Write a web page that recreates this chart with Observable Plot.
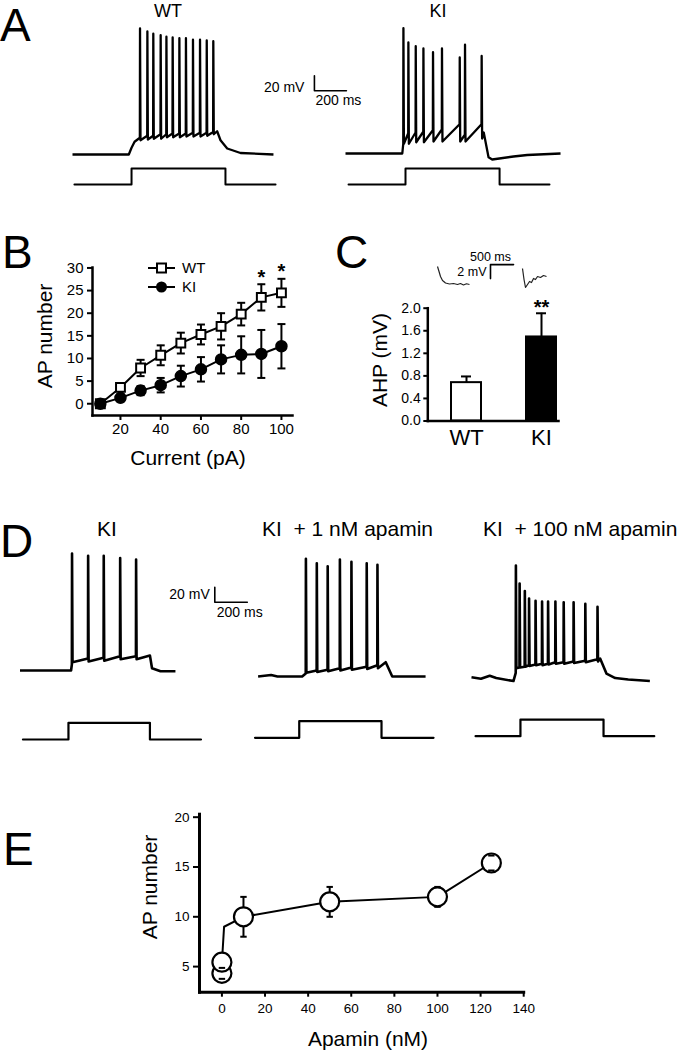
<!DOCTYPE html>
<html>
<head>
<meta charset="utf-8">
<script src="https://cdn.jsdelivr.net/npm/d3@7"></script>
<script src="https://cdn.jsdelivr.net/npm/@observablehq/plot@0.6"></script>
<style>
html, body { margin: 0; padding: 0; background: #fff; }
#fig { position: relative; width: 678px; height: 1050px; overflow: hidden; background: #fff;
       font-family: "Liberation Sans", Arial, Helvetica, sans-serif; color: #000; }
.lbl { position: absolute; line-height: 1; white-space: pre; }
</style>
</head>
<body>
<div id="fig"></div>
<script>
// ======================= DATA =======================
// Panel A – membrane potential (time in ms from trace start, mV); spikes: [t, start, peak, trough]
const aTitles = ["WT", "KI"];
const aWtPre = [[0,-65],[352,-65],[369,-56],[388,-48],[419,-43]];
const aWtSpikes = [[421,-43,103,-46],[467,-40,99,-45],[504,-40,96,-44],[550,-38,94,-44],[586,-38,92,-42],[625,-37,91,-42],
                   [667,-37,90,-42],[708,-37,90,-41],[752,-36,88,-41],[796,-36,88,-41],[838,-36,87,-40],[879,-35,86,-38]];
const aWtPost = [[904,-34],[925,-46],[967,-57],[1050,-63],[1256,-65]];
const aKiPre = [[0,-65],[355,-65]];
const aKiSpikes = [[361,-52,102,-52],[392,-38,83,-52],[438,-37,78,-50],[486,-36,75,-50],[546,-34,70,-49],
                   [602,-33,75,-49],[713,-26,63,-49],[746,-40,80,-49],[850,-26,65,-45]];
const aKiPost = [[864,-37],[894,-70],[917,-73],[1050,-69],[1136,-67],[1344,-65]];
const aWtStep = [12, 369, 956, 1269];   // start, on, off, end (ms)
const aKiStep = [19, 375, 963, 1275];
const aStepAmp = 60;                    // pA
const aScaleBar = [1512, 20, 200, 20];  // t, v, 200 ms, 20 mV

// Panel B – AP number vs injected current
const bCurrent = [10, 20, 30, 40, 50, 60, 70, 80, 90, 100];
const bWtMean = [0, 3.6, 7.9, 10.7, 13.4, 15.3, 17.1, 19.8, 23.5, 24.5];
const bWtSem  = [0.3, 0.8, 1.8, 2.2, 2.3, 2.2, 2.9, 2.5, 2.9, 3.1];
const bKiMean = [0, 1.3, 2.9, 4.1, 6.1, 7.6, 9.8, 10.8, 11.0, 12.7];
const bKiSem  = [0.3, 0.6, 1.0, 1.6, 2.3, 2.7, 3.1, 4.1, 5.3, 4.9];
const bSig    = ["", "", "", "", "", "", "", "", "*", "*"];
const bXTicks = [20, 40, 60, 80, 100];
const bYTicks = [0, 5, 10, 15, 20, 25, 30];
const bSeries = ["WT", "KI"];

// Panel C – AHP amplitude
const cGroups = ["WT", "KI"];
const cMean = [0.68, 1.49];
const cSem  = [0.11, 0.42];
const cSig  = ["", "**"];
const cYTicks = [0, 0.4, 0.8, 1.2, 1.6, 2.0];
// C insets: AHP traces (ms, mV)
const cWtAhp = [[0,2.43],[33,1.72],[65,1.0],[109,0.43],[174,0.07],[260,-0.07],[347,0],[434,-0.14],[499,0],[564,-0.21],[629,-0.04],[694,-0.14]];
const cKiAhp = [[0,2.15],[33,0.57],[65,-0.57],[109,-0.14],[152,0.29],[195,0.14],[239,0.72],[282,0.57],[326,1.0],[391,0.86],[456,1.14],[521,1.0]];
const cScaleBar = [1150, 0.7, 500, 2];   // t, v, 500 ms, 2 mV

// Panel D – KI, KI + 1 nM apamin, KI + 100 nM apamin
const dTitles = ["KI", "KI  + 1 nM apamin", "KI  + 100 nM apamin"];
const dKiPre = [[0,-65],[314,-65]];
const dKiSpikes = [[319,-57,91,-54],[418,-49,88,-53],[514,-48,88,-52],[615,-46,85,-50],[713,-46,83,-50]];
const dKiPost = [[799,-45],[812,-62],[864,-66],[956,-66]];
const dA1Pre = [[0,-65],[80,-63],[119,-65],[271,-65]];
const dA1Spikes = [[293,-61,92,-60],[360,-57,86,-59],[427,-56,82,-58],[502,-54,91,-57],[573,-53,88,-56],[667,-52,86,-55],[733,-50,84,-54]];
const dA1Post = [[785,-46],[825,-65],[1030,-65]];
const dA100Pre = [[0,-63],[58,-65],[112,-61],[152,-64],[258,-68]];
const dA100Spikes = [[272,-57,86,-51],[295,-50,62,-50],[327,-49,52,-49],[353,-47,42,-48],[393,-46,39,-47],[433,-45,38,-47],
                     [470,-45,38,-46],[515,-43,38,-45],[566,-43,37,-45],[627,-42,37,-44],[699,-41,35,-43],[774,-39,31,-42]];
const dA100Post = [[791,-38],[830,-58],[884,-64],[964,-66],[1097,-68]];
const dKiStep = [18, 298, 799, 1113];
const dA1Step = [-19, 253, 759, 1079];
const dA100Step = [25, 301, 812, 1124];
const dStepAmp = 60;
const dScaleBar = [1198, 26, 200, 20];

// Panel E – AP number vs apamin
const eLineDose = [0, 1, 10, 50, 100, 125];
const eLineMean = [5.44, 9.0, 10.0, 11.5, 12.0, 15.4];
const eDotDose = [0, 0, 10, 50, 100, 125];
const eDotMean = [4.32, 5.44, 10.0, 11.5, 12.0, 15.4];
const eDotSem  = [0.55, 0, 2.0, 1.5, 1.0, 0.75];
const eXTicks = [0, 20, 40, 60, 80, 100, 120, 140];
const eYTicks = [5, 10, 15, 20];

// ======================= HELPERS =======================
const FONT = '"Liberation Sans", Arial, Helvetica, sans-serif';
const fig = document.getElementById("fig");
const baseStyle = {background: "transparent", overflow: "visible", fontFamily: FONT, color: "black"};

function put(node, left, top) {
  node.style.position = "absolute";
  node.style.left = left + "px";
  node.style.top = top + "px";
  fig.append(node);
}
function label(text, x, y, size, opts = {}) {
  const {anchor = "middle", rotate = false, weight = "normal"} = opts;
  const d = document.createElement("div");
  d.className = "lbl";
  d.textContent = text;
  Object.assign(d.style, {left: x + "px", top: y + "px", fontSize: size + "px", fontWeight: weight});
  const tx = anchor === "start" ? "0%" : anchor === "end" ? "-100%" : "-50%";
  d.style.transform = `translate(${tx}, -50%)` + (rotate ? " rotate(-90deg)" : "");
  fig.append(d);
}
function trace(pre, spikes, post) {
  const pts = pre.map(([t, v]) => ({t, v}));
  for (const [t, vs, vp, vt] of spikes) pts.push({t, v: vs}, {t: t + 1, v: vp}, {t: t + 4, v: vt});
  for (const [t, v] of post) pts.push({t, v});
  return pts;
}
const pts = (arr) => arr.map(([t, v]) => ({t, v}));
function stepPts([start, on, off, end], amp) {
  return [{t: start, v: 0}, {t: on, v: amp}, {t: off, v: 0}, {t: end, v: 0}];
}
// A Plot whose scales map (t, v) units onto a page box; origin = page px of (tRef, vRef)
function tracePlot(box, origin, scale, marks) {
  const [left, top, width, height] = box;
  const [ox, oy] = origin;
  const [tRef, vRef, kx, ky] = scale;
  const svg = Plot.plot({
    width, height, margin: 0,
    x: {type: "linear", domain: [tRef + (left - ox) * kx, tRef + (left + width - ox) * kx], axis: null},
    y: {type: "linear", domain: [vRef - (top + height - oy) * ky, vRef + (oy - top) * ky], axis: null},
    style: {...baseStyle},
    marks
  });
  put(svg, left, top);
}
const tLine = (data, w, extra = {}) => Plot.line(data, {x: "t", y: "v", stroke: "black", strokeWidth: w,
  strokeLinejoin: "round", strokeLinecap: "butt", ...extra});
const stepLine = (data, w) => Plot.line(data, {x: "t", y: "v", curve: "step-after", stroke: "black", strokeWidth: w});
function scaleBar([t, v, dt, dv], unitT, unitV, o) {
  const corner = o.flip
    ? [{t, v}, {t, v: v + dv}, {t: t + dt, v: v + dv}]
    : [{t, v: v + dv}, {t, v}, {t: t + dt, v}];
  return [
    Plot.line(corner, {x: "t", y: "v", stroke: "black", strokeWidth: o.w}),
    Plot.text([{t, v: o.flip ? v + dv / 2 : v, s: `${dv} ${unitV}`}], {x: "t", y: "v", text: "s", textAnchor: "end",
      dx: o.vdx, dy: o.vdy, fontSize: o.fs}),
    Plot.text([{t, v: o.flip ? v + dv : v, s: `${dt} ${unitT}`}], {x: "t", y: "v", text: "s",
      textAnchor: o.flip ? "middle" : "start", dx: o.tdx, dy: o.tdy, fontSize: o.fs})
  ];
}
const capSym = {draw(ctx, size) { const r = Math.sqrt(size / Math.PI); ctx.moveTo(-r, 0); ctx.lineTo(r, 0); }};

// ======================= PANEL A =======================
const msA = 6.25, mvA = 20 / 15, paA = 3.75;
tracePlot([60, 18, 330, 152], [72, 154], [0, -65, msA, mvA], [
  tLine(trace(aWtPre, aWtSpikes, aWtPost), 2.3),
  ...scaleBar(aScaleBar, "ms", "mV", {w: 1.6, fs: 14, vdx: -10, vdy: -3, tdx: 1, tdy: 10})
]);
tracePlot([340, 18, 230, 152], [345, 153], [0, -65, msA, mvA], [
  tLine(trace(aKiPre, aKiSpikes, aKiPost), 2.3)
]);
tracePlot([60, 160, 230, 30], [72, 184], [0, 0, msA, paA], [stepLine(stepPts(aWtStep, aStepAmp), 2)]);
tracePlot([340, 160, 230, 30], [345, 184], [0, 0, msA, paA], [stepLine(stepPts(aKiStep, aStepAmp), 2)]);
label("A", 0, 25, 46, {anchor: "start"});
label(aTitles[0], 168, 11, 18);
label(aTitles[1], 438, 11, 18);

// ======================= PANEL B =======================
const bRows = bCurrent.flatMap((c, i) => [
  {c, g: bSeries[0], m: bWtMean[i], s: bWtSem[i], sig: bSig[i]},
  {c, g: bSeries[1], m: bKiMean[i], s: bKiSem[i], sig: ""}
]);
const bWt = bRows.filter(d => d.g === "WT"), bKi = bRows.filter(d => d.g === "KI");
put(Plot.plot({
  width: 300, height: 210, marginLeft: 92, marginRight: 8, marginTop: 7, marginBottom: 55,
  x: {domain: [6.1, 105.5]},
  y: {domain: [-2.6, 30.1]},
  style: {...baseStyle, fontSize: "15px"},
  marks: [
    Plot.axisX({ticks: bXTicks, tickSize: 5, tickPadding: 3, strokeWidth: 2, label: null}),
    Plot.axisY({ticks: bYTicks, tickSize: 5, tickPadding: 4, strokeWidth: 2, label: null}),
    Plot.frame({anchor: "left", strokeWidth: 2.5}),
    Plot.frame({anchor: "bottom", strokeWidth: 2.5}),
    Plot.line(bWt, {x: "c", y: "m", strokeWidth: 2}),
    Plot.line(bKi, {x: "c", y: "m", strokeWidth: 2}),
    Plot.ruleX(bRows, {x: "c", y1: d => d.m - d.s, y2: d => d.m + d.s, strokeWidth: 2}),
    Plot.dot(bRows, {x: "c", y: d => d.m + d.s, symbol: capSym, r: 4, stroke: "black", fill: "none", strokeWidth: 2}),
    Plot.dot(bRows, {x: "c", y: d => d.m - d.s, symbol: capSym, r: 4, stroke: "black", fill: "none", strokeWidth: 2}),
    Plot.dot(bWt, {x: "c", y: "m", symbol: "square", r: 5, fill: "white", stroke: "black", strokeWidth: 2}),
    Plot.dot(bKi, {x: "c", y: "m", r: 5.5, fill: "black", stroke: "black"}),
    Plot.text(bWt, {x: "c", y: d => d.m + d.s, text: "sig", dy: -7, fontSize: 20, fontWeight: "bold"})
  ]
}), 0, 260);
label("B", 2, 252, 46, {anchor: "start"});
label("AP number", 44, 336, 21, {rotate: true});
label("Current (pA)", 188, 457, 21);
// legend
{
  const leg = d3.create("svg").attr("width", 70).attr("height", 40)
    .style("position", "absolute").style("left", "140px").style("top", "258px").style("overflow", "visible");
  bSeries.forEach((g, i) => {
    const y = 10 + i * 19;
    leg.append("line").attr("x1", 8).attr("x2", 35).attr("y1", y).attr("y2", y).attr("stroke", "black").attr("stroke-width", 2);
    if (g === "WT") leg.append("rect").attr("x", 17).attr("y", y - 4.5).attr("width", 9).attr("height", 9)
      .attr("fill", "white").attr("stroke", "black").attr("stroke-width", 2);
    else leg.append("circle").attr("cx", 21.5).attr("cy", y).attr("r", 5.5).attr("fill", "black");
    leg.append("text").attr("x", 42).attr("y", y).attr("dy", "0.35em").attr("font-size", 15)
      .attr("font-family", FONT).text(g);
  });
  fig.append(leg.node());
}

// ======================= PANEL C =======================
const cRows = cGroups.map((g, i) => ({g, m: cMean[i], s: cSem[i], sig: cSig[i]}));
put(Plot.plot({
  width: 250, height: 200, marginLeft: 97.3, marginRight: 22, marginTop: 57.7, marginBottom: 29.5,
  x: {type: "band", domain: cGroups, paddingInner: 0.6, paddingOuter: 0.171, align: 0.91},
  y: {domain: [0, 2]},
  style: {...baseStyle, fontSize: "14px"},
  marks: [
    Plot.axisY({ticks: cYTicks, tickFormat: d3.format(".1f"), tickSize: 4, tickPadding: 3, strokeWidth: 2, label: null}),
    Plot.axisX({tickSize: 0, tickPadding: 8, fontSize: 22, label: null}),
    Plot.barY(cRows.filter(d => d.g === "WT"), {x: "g", y: "m", fill: "white", stroke: "black", strokeWidth: 2}),
    Plot.barY(cRows.filter(d => d.g === "KI"), {x: "g", y: "m", fill: "black", stroke: "black", strokeWidth: 2}),
    Plot.ruleX(cRows, {x: "g", y1: "m", y2: d => d.m + d.s, strokeWidth: 2}),
    Plot.tickY(cRows, {x: "g", y: d => d.m + d.s, inset: 10, strokeWidth: 2}),
    Plot.frame({anchor: "left", strokeWidth: 2.5}),
    Plot.frame({anchor: "bottom", strokeWidth: 2.5}),
    Plot.text(cRows, {x: "g", y: d => d.m + d.s, text: "sig", dy: -6, fontSize: 20, fontWeight: "bold"})
  ]
}), 330, 250);
label("C", 335, 252, 46, {anchor: "start"});
label("AHP (mV)", 379, 359.5, 21, {rotate: true});
const msC = 21.7, mvC = 0.143;
tracePlot([425, 245, 130, 50], [437, 283], [0, 0, msC, mvC], [
  tLine(pts(cWtAhp), 1.2, {stroke: "#222"}),
  ...scaleBar(cScaleBar, "ms", "mV", {flip: true, w: 1.6, fs: 12.5, vdx: -4, vdy: 0, tdx: 0, tdy: -8})
]);
tracePlot([515, 255, 40, 40], [522, 283], [0, 0, msC, mvC], [tLine(pts(cKiAhp), 1.2, {stroke: "#222"})]);

// ======================= PANEL D =======================
const msD = 6.15, mvD = 20 / 15, paD = 3.6;
tracePlot([10, 540, 240, 140], [19.5, 670], [0, -65, msD, mvD], [
  tLine(trace(dKiPre, dKiSpikes, dKiPost), 2.6),
  ...scaleBar(dScaleBar, "ms", "mV", {w: 1.6, fs: 14, vdx: -5, vdy: -8, tdx: 2, tdy: 10})
]);
tracePlot([250, 540, 190, 145], [257.6, 676], [0, -65, msD, mvD], [tLine(trace(dA1Pre, dA1Spikes, dA1Post), 2.6)]);
tracePlot([465, 550, 200, 140], [471, 678.3], [0, -65, msD, mvD], [tLine(trace(dA100Pre, dA100Spikes, dA100Post), 2.6)]);
tracePlot([10, 710, 200, 40], [19.5, 739], [0, 0, msD, paD], [stepLine(stepPts(dKiStep, dStepAmp), 2.2)]);
tracePlot([245, 710, 195, 40], [257.6, 737.3], [0, 0, msD, paD], [stepLine(stepPts(dA1Step, dStepAmp), 2.2)]);
tracePlot([465, 710, 195, 40], [471, 735.7], [0, 0, msD, paD], [stepLine(stepPts(dA100Step, dStepAmp), 2.2)]);
label("D", 0, 541, 46, {anchor: "start"});
label(dTitles[0], 107, 528, 21);
label(dTitles[1], 262, 528, 21, {anchor: "start"});
label(dTitles[2], 483, 528, 21, {anchor: "start"});

// ======================= PANEL E =======================
const eLine = eLineDose.map((d, i) => ({d, m: eLineMean[i]}));
const eDots = eDotDose.map((d, i) => ({d, m: eDotMean[i], s: eDotSem[i]}));
const eErr = eDots.filter(d => d.s > 0);
put(Plot.plot({
  width: 460, height: 250, marginLeft: 99, marginRight: 36.8, marginTop: 13.7, marginBottom: 58.3,
  x: {domain: [-10.4, 140]},
  y: {domain: [2.43, 20.3]},
  style: {...baseStyle, fontSize: "13.5px"},
  marks: [
    Plot.axisX({ticks: eXTicks, tickSize: 5, tickPadding: 6, strokeWidth: 2, label: null}),
    Plot.axisY({ticks: eYTicks, tickSize: 6, tickPadding: 4, strokeWidth: 2, label: null}),
    Plot.frame({anchor: "left", strokeWidth: 3}),
    Plot.frame({anchor: "bottom", strokeWidth: 3}),
    Plot.line(eLine, {x: "d", y: "m", strokeWidth: 2}),
    Plot.ruleX(eErr, {x: "d", y1: d => d.m - d.s, y2: d => d.m + d.s, strokeWidth: 2}),
    Plot.dot(eDots, {x: "d", y: "m", r: 9.5, fill: "white", stroke: "black", strokeWidth: 2.2}),
    Plot.dot(eErr, {x: "d", y: d => d.m + d.s, symbol: capSym, r: 3.2, stroke: "black", fill: "none", strokeWidth: 2}),
    Plot.dot(eErr, {x: "d", y: d => d.m - d.s, symbol: capSym, r: 3.2, stroke: "black", fill: "none", strokeWidth: 2})
  ]
}), 100, 800);
label("E", 3, 849, 46, {anchor: "start"});
label("AP number", 149, 886.5, 21, {rotate: true});
label("Apamin (nM)", 368, 1038, 21);
</script>
</body>
</html>
